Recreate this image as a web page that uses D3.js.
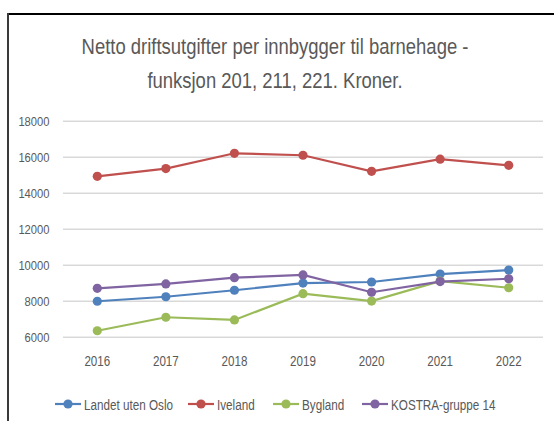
<!DOCTYPE html>
<html><head><meta charset="utf-8">
<script src="https://cdn.jsdelivr.net/npm/d3@7"></script>
<style>body{margin:0;background:#fff}svg{display:block}</style>
</head><body>
<script>
const years = ["2016","2017","2018","2019","2020","2021","2022"];
const seriesNames = ["Landet uten Oslo","Iveland","Bygland","KOSTRA-gruppe 14"];
const landet = [7970,8220,8580,8980,9040,9480,9700];
const iveland = [14910,15340,16190,16080,15190,15860,15520];
const bygland = [6330,7080,6930,8390,7980,9090,8720];
const kostra = [8690,8930,9280,9430,8470,9060,9220];
const yTicks = [6000,8000,10000,12000,14000,16000,18000];
const colors = ["#4F81BD","#C0504D","#9BBB59","#8064A2"];
const titleLines = ["Netto driftsutgifter per innbygger til barnehage -","funksjon 201, 211, 221. Kroner."];

const series = [landet, iveland, bygland, kostra].map((v,i)=>({name:seriesNames[i], values:v, color:colors[i]}));
const W=554,H=421;
const font = "'Liberation Sans',Arial,sans-serif";
const textCol = "#595959";
const svg = d3.select("body").append("svg").attr("width",W).attr("height",H);
svg.append("rect").attr("width",W).attr("height",H).attr("fill","#fff");
// frame
svg.append("line").attr("x1",7).attr("x2",W).attr("y1",14).attr("y2",14).attr("stroke","#000").attr("stroke-width",2);
svg.append("line").attr("x1",8).attr("x2",8).attr("y1",13).attr("y2",H).attr("stroke","#3a3a3a").attr("stroke-width",2);

const x = d3.scaleBand().domain(years).range([63,543]);
const y = d3.scaleLinear().domain([6000,18000]).range([336.7,120.7]);

// title
const tS = 0.84;
titleLines.forEach((t,i)=>{
  svg.append("text").attr("transform",`translate(275,${54+i*34}) scale(${tS},1)`)
    .attr("font-family",font).attr("font-size",22).attr("fill",textCol).attr("text-anchor","middle").text(t);
});

const yS = 0.83;
const yAxis = d3.axisLeft(y).tickValues(yTicks).tickSize(-(543-63)).tickFormat(d3.format("d"));
const gy = svg.append("g").attr("transform","translate(63,0)").call(yAxis);
gy.select(".domain").remove();
gy.selectAll(".tick line").attr("stroke","#d9d9d9").attr("stroke-width",1.5);
gy.selectAll(".tick text").attr("x",-13.5/yS).attr("transform",`scale(${yS},1)`)
  .attr("font-family",font).attr("font-size",13.5).attr("fill",textCol);

const xS = 0.8;
const xAxis = d3.axisBottom(x).tickSize(0);
const gx = svg.append("g").attr("transform","translate(0,336.7)").call(xAxis);
gx.select(".domain").remove();
gx.selectAll(".tick text").attr("dy",0).attr("y",29.5).attr("transform",`scale(${xS},1)`)
  .attr("font-family",font).attr("font-size",14.5).attr("fill",textCol);

const line = d3.line().x((d,i)=>x(years[i])+x.bandwidth()/2).y(d=>y(d));
series.forEach(s=>{
  svg.append("path").datum(s.values).attr("d",line).attr("fill","none").attr("stroke",s.color).attr("stroke-width",2.2);
  svg.selectAll(null).data(s.values).enter().append("circle")
    .attr("cx",(d,i)=>x(years[i])+x.bandwidth()/2).attr("cy",d=>y(d)).attr("r",4.6).attr("fill",s.color);
});

// legend
const legX = [55,188,273,362];
const lS = 0.78;
series.forEach((s,i)=>{
  const g = svg.append("g").attr("transform",`translate(${legX[i]},404)`);
  g.append("line").attr("x1",0).attr("x2",26).attr("stroke",s.color).attr("stroke-width",2.2);
  g.append("circle").attr("cx",13).attr("r",4.6).attr("fill",s.color);
  g.append("text").attr("transform",`translate(29,5.5) scale(${lS},1)`)
    .attr("font-family",font).attr("font-size",15).attr("fill",textCol).text(s.name);
});
</script>
</body></html>
